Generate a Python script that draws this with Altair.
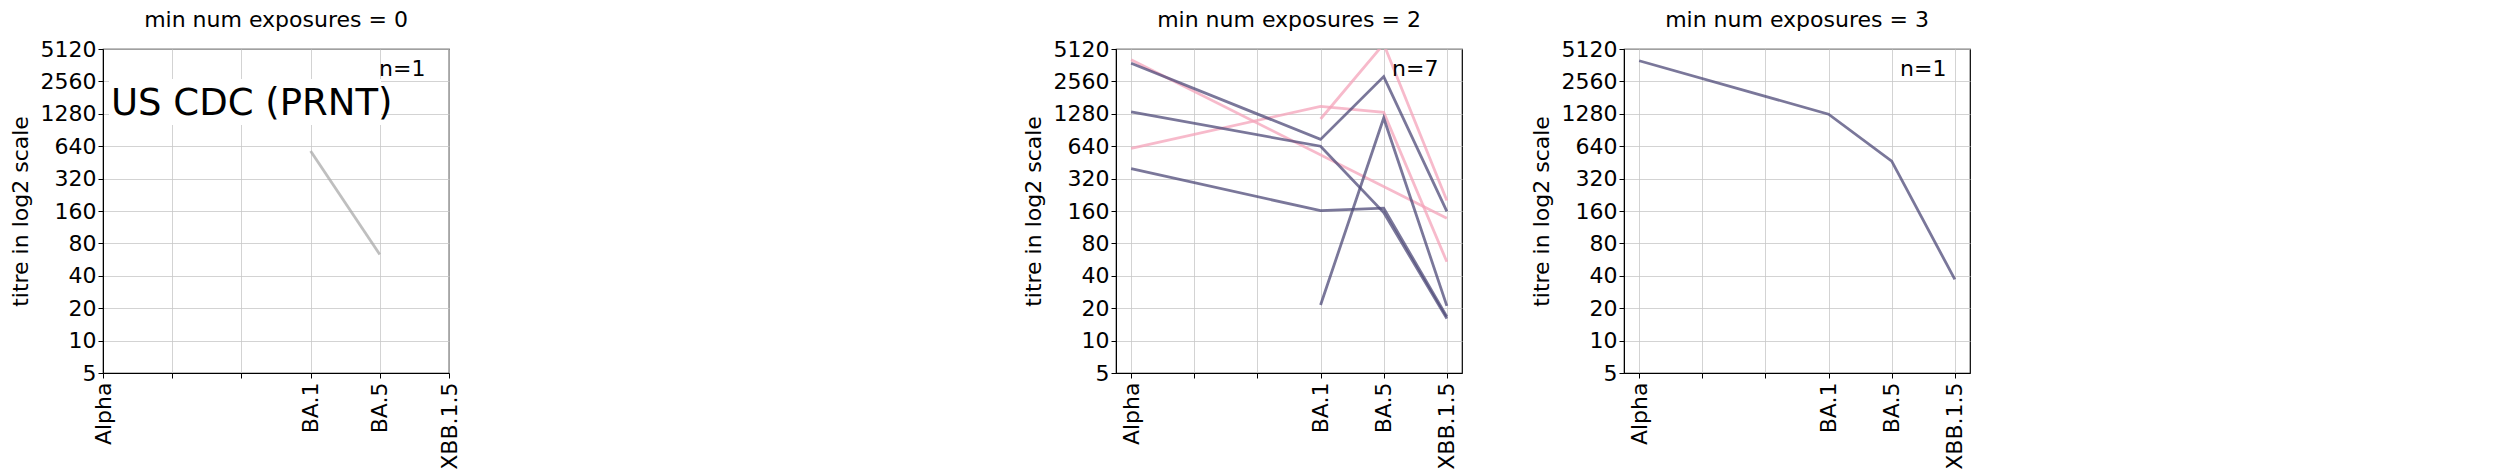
import altair as alt
import pandas as pd

variants = ["Alpha", "", "", "BA.1", "BA.5", "XBB.1.5"]
pos = {"Alpha": 0, "BA.1": 3, "BA.5": 4, "XBB.1.5": 5}
y_ticks = [5, 10, 20, 40, 80, 160, 320, 640, 1280, 2560, 5120]

# panel: min num exposures = 0
p0_lines = {"g1": {"BA.1": 577, "BA.5": 63}}
# panel: min num exposures = 2
p2_dark = {
    "d1": {"Alpha": 3776, "BA.1": 740, "BA.5": 2840, "XBB.1.5": 159},
    "d2": {"Alpha": 1332, "BA.1": 640, "BA.5": 155, "XBB.1.5": 16},
    "d3": {"Alpha": 397, "BA.1": 161, "BA.5": 170, "XBB.1.5": 16.7},
    "d4": {"BA.1": 21.4, "BA.5": 1170, "XBB.1.5": 21},
}
p2_pink = {
    "p1": {"Alpha": 4070, "XBB.1.5": 137},
    "p2": {"Alpha": 610, "BA.1": 1500, "BA.5": 1320, "XBB.1.5": 54},
    "p3": {"BA.1": 1145, "BA.5": 5700, "XBB.1.5": 200},
}
# panel: min num exposures = 3
p3_lines = {"d1": {"Alpha": 3980, "BA.1": 1270, "BA.5": 465, "XBB.1.5": 37}}

W, H = 346, 324
FONT = "DejaVu Sans"


def to_df(groups, color):
    rows = []
    for g, vals in groups.items():
        for v, t in vals.items():
            rows.append({"id": g, "x": pos[v], "titre": t, "c": color})
    return pd.DataFrame(rows)


def panel(df, title, n, dom):
    label_expr = ("datum.value == 0 ? 'Alpha' : datum.value == 3 ? 'BA.1' : "
                  "datum.value == 4 ? 'BA.5' : datum.value == 5 ? 'XBB.1.5' : ''")
    x = alt.X("x:Q", scale=alt.Scale(domain=dom, nice=False, zero=False),
              axis=alt.Axis(values=list(range(6)), labelExpr=label_expr, labelAngle=-90,
                            title=None, labelFontSize=22, gridColor="#c8c8c8",
                            domainColor="black", tickColor="black", labelPadding=4))
    y = alt.Y("titre:Q", scale=alt.Scale(type="log", base=2, domain=[5, 5120], nice=False, clamp=False),
              axis=alt.Axis(values=y_ticks, format="d", title="titre in log2 scale", titleFontSize=22,
                            titleFontWeight="normal", labelFontSize=22, gridColor="#c8c8c8",
                            domainColor="black", tickColor="black", titlePadding=8))
    lines = alt.Chart(df).mark_line(strokeWidth=2.8, opacity=0.75, clip=True).encode(
        x=x, y=y, detail="id:N", color=alt.Color("c:N", scale=None))
    ntext = alt.Chart(pd.DataFrame({"t": [f"n={n}"]})).mark_text(
        fontSize=22, align="left", baseline="top", font=FONT).encode(
        x=alt.value(W - 70), y=alt.value(10), text="t:N")
    return alt.layer(lines, ntext).properties(
        width=W, height=H,
        title=alt.TitleParams(title, fontSize=22, fontWeight="normal", font=FONT, offset=6))


c0 = panel(to_df(p0_lines, "#a9a9a9"), "min num exposures = 0", 1, [0, 5])
box = alt.Chart(pd.DataFrame({"t": ["US CDC (PRNT)"]})).mark_rect(color="white").encode(
    x=alt.value(6), x2=alt.value(278), y=alt.value(30), y2=alt.value(76))
label = alt.Chart(pd.DataFrame({"t": ["US CDC (PRNT)"]})).mark_text(
    fontSize=37, align="left", baseline="alphabetic", font=FONT).encode(
    x=alt.value(8), y=alt.value(66), text="t:N")
c0 = alt.layer(c0, box, label)

df2 = pd.concat([to_df(p2_pink, "#f4a3b9"), to_df(p2_dark, "#4e4a78")])
c2 = panel(df2, "min num exposures = 2", 7, [-0.24, 5.24])
c3 = panel(to_df(p3_lines, "#4e4a78"), "min num exposures = 3", 1, [-0.24, 5.24])

spacer = alt.Chart(pd.DataFrame({"a": [0]})).mark_point(opacity=0).encode(
    x=alt.X("a:Q", axis=None), y=alt.Y("a:Q", axis=None)).properties(
    width=428, height=H, view=alt.ViewConfig(stroke=None))

chart = alt.hconcat(c0, spacer, c2, c3, spacing=66).configure(font=FONT).configure_view(
    stroke="black", strokeWidth=1.2).configure_axis(labelColor="black", titleColor="black",
    gridOpacity=0.8).properties(padding={"left": 0, "top": 0, "right": 5, "bottom": 5})

chart.save("out.html", embed_options={"renderer": "svg", "actions": False})
